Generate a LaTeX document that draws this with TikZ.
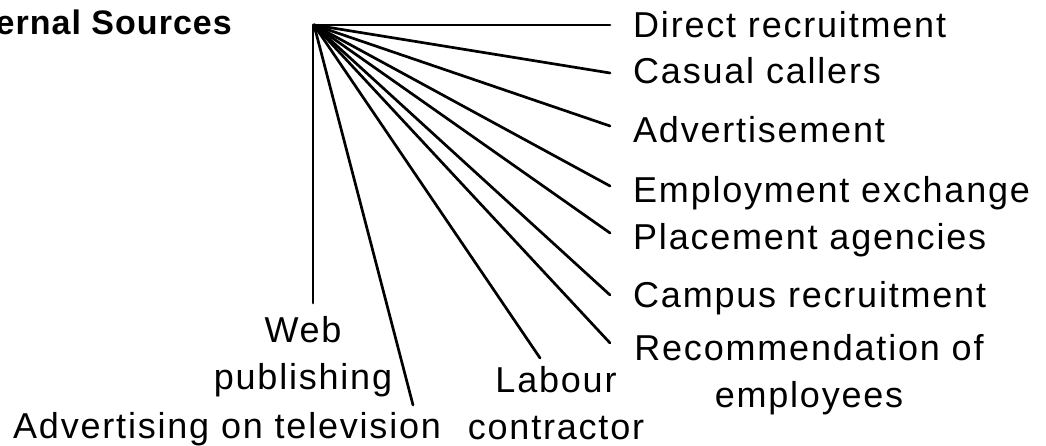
\documentclass[tikz,border=0pt]{standalone}
\usepackage{fontspec}
\setmainfont{Liberation Sans}[LetterSpace=5]
\newfontfamily\titlefont{Liberation Sans}[LetterSpace=3]
\begin{document}
\begin{tikzpicture}[x=1pt,y=-1pt,
  lbl/.style={inner sep=0pt,font=\fontsize{36}{47}\selectfont},
  ttl/.style={inner sep=0pt,font=\titlefont\bfseries\fontsize{34}{40}\selectfont},
  spoke/.style={line width=2.7pt,line cap=round}]
\useasboundingbox (0,0) rectangle (1046,446);
\fill[white] (0,0) rectangle (1046,446);
% title (cropped on the left)
\node[ttl,anchor=base east] (title) at (232,35) {External Sources};
% hub
\coordinate (hub) at (314,25);
% right labels
\node[lbl,anchor=base west] (direct) at (633,38) {Direct recruitment};
\node[lbl,anchor=base west] (casual) at (633,84) {Casual callers};
\node[lbl,anchor=base west] (advert) at (633,143) {Advertisement};
\node[lbl,anchor=base west] (empex) at (633,203) {Employment exchange};
\node[lbl,anchor=base west] (place) at (633,250) {Placement agencies};
\node[lbl,anchor=base west] (campus) at (633,307) {Campus recruitment};
\node[lbl,anchor=base,align=center] (recom) at (809,407) {Recommendation of\\employees};
% bottom labels
\node[lbl,anchor=base,align=center] (labour) at (556,439) {Labour\\contractor};
\node[lbl,anchor=base,align=center] (web) at (303,389) {Web\\publishing};
\node[lbl,anchor=base west] (tv) at (13,438) {Advertising on television};
% connector ends
\coordinate (eDirect) at (610,25);
\coordinate (eCasual) at (610,73);
\coordinate (eAdvert) at (610,126);
\coordinate (eEmpex) at (610,186);
\coordinate (ePlace) at (610,233);
\coordinate (eCampus) at (610,295);
\coordinate (eRecom) at (610,343);
\coordinate (eLabour) at (540,358);
\coordinate (eTv) at (413,405);
\coordinate (eWeb) at (313,303);
% spokes
\foreach \e in {eDirect,eCasual,eAdvert,eEmpex,ePlace,eCampus,eRecom,eLabour,eTv}
  \draw[spoke] (hub) -- (\e);
\draw[spoke] (313,25) -- (eWeb);
\end{tikzpicture}
\end{document}
